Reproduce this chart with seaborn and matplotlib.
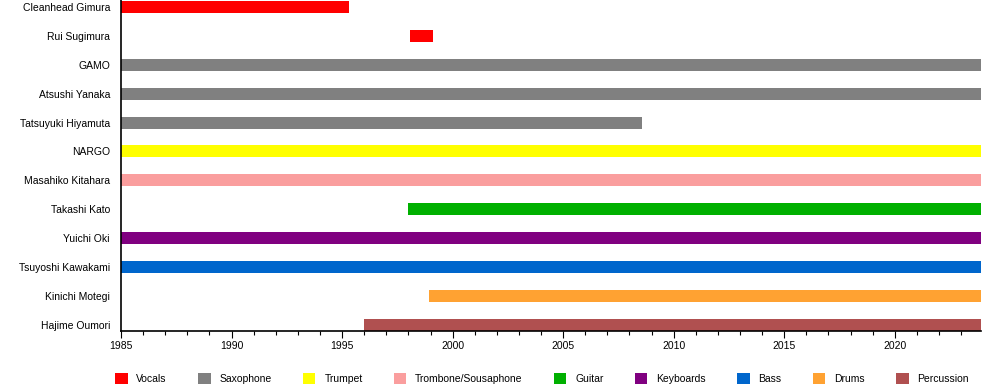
import matplotlib
matplotlib.use("Agg")
import matplotlib.pyplot as plt
from matplotlib.patches import Patch
from matplotlib.ticker import MultipleLocator
import seaborn as sns
import pandas as pd

members = ["Cleanhead Gimura", "Rui Sugimura", "GAMO", "Atsushi Yanaka",
           "Tatsuyuki Hiyamuta", "NARGO", "Masahiko Kitahara", "Takashi Kato",
           "Yuichi Oki", "Tsuyoshi Kawakami", "Kinichi Motegi", "Hajime Oumori"]
starts = [1985.0, 1998.05, 1985.0, 1985.0, 1985.0, 1985.0, 1985.0, 1998.0,
          1985.0, 1985.0, 1998.95, 1996.0]
ends = [1995.3, 1999.1, 2023.9, 2023.9, 2008.55, 2023.9, 2023.9, 2023.9,
        2023.9, 2023.9, 2023.9, 2023.9]
roles = ["Vocals", "Vocals", "Saxophone", "Saxophone", "Saxophone", "Trumpet",
         "Trombone/Sousaphone", "Guitar", "Keyboards", "Bass", "Drums", "Percussion"]

legend_labels = ["Vocals", "Saxophone", "Trumpet", "Trombone/Sousaphone", "Guitar",
                 "Keyboards", "Bass", "Drums", "Percussion"]
legend_colors = ["#FF0000", "#808080", "#FFFF00", "#FA9E9E", "#00B000",
                 "#800080", "#0066CC", "#FFA232", "#B05050"]

x_min, x_max = 1985, 2023.9

df = pd.DataFrame({"member": members, "start": starts, "end": ends, "role": roles})
palette = dict(zip(legend_labels, legend_colors))

sns.set_theme(style="white")
plt.rcParams["font.family"] = ["Liberation Sans", "DejaVu Sans"]
plt.rcParams["text.color"] = "black"
plt.rcParams["xtick.color"] = "black"
plt.rcParams["ytick.color"] = "black"

fig = plt.figure(figsize=(10, 3.9), dpi=100)
ax = fig.add_axes([0.121, 1 - 331 / 390, 0.86, 331 / 390])

ypos = list(range(len(df)))
ax.barh(ypos, df["end"] - df["start"], left=df["start"], height=12 / 28.9,
        color=[palette[r] for r in df["role"]], linewidth=0)

ax.set_yticks(ypos)
ax.set_yticklabels(df["member"], fontsize=7.5)
ax.set_ylim(11.21, -0.24)
ax.set_xlim(x_min, x_max)
ax.xaxis.set_major_locator(MultipleLocator(5))
ax.xaxis.set_minor_locator(MultipleLocator(1))
ax.tick_params(axis="y", length=0, pad=8)
ax.tick_params(axis="x", which="major", length=5, width=0.8, color="black",
               labelsize=7.5, pad=2, bottom=True)
ax.tick_params(axis="x", which="minor", length=3, width=0.8, color="black", bottom=True)
for s in ["top", "right"]:
    ax.spines[s].set_visible(False)
for s in ["left", "bottom"]:
    ax.spines[s].set_color("black")
    ax.spines[s].set_linewidth(1.2)
ax.set_xlabel("")
ax.set_ylabel("")
ax.grid(False)

handles = [Patch(facecolor=c, edgecolor="none", label=l) for l, c in zip(legend_labels, legend_colors)]
fig.legend(handles=handles, loc="center", bbox_to_anchor=(0.542, 1 - 378.5 / 390),
           ncol=9, frameon=False, fontsize=7.5, handlelength=1.2, handleheight=1.25,
           handletextpad=0.85, columnspacing=3.0, borderaxespad=0)

fig.savefig("out.png", dpi=100)
